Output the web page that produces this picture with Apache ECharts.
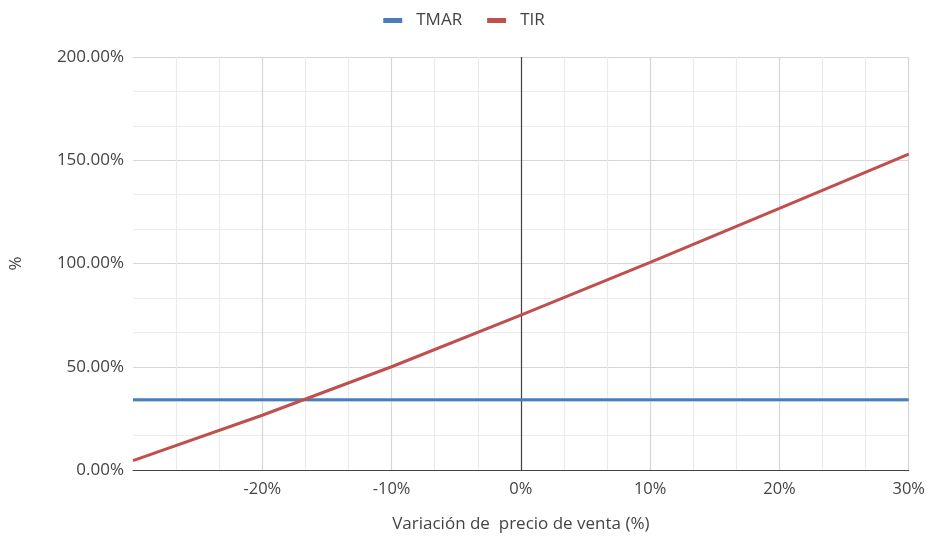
<!DOCTYPE html>
<html>
<head>
<meta charset="utf-8">
<script src="https://cdn.jsdelivr.net/npm/echarts@6/dist/echarts.min.js"></script>
<style>html,body{margin:0;padding:0;background:#fff}#c{width:928px;height:540px}</style>
</head>
<body>
<div id="c"></div>
<script>
var variation = [-30, -20, -10, 0, 10, 20, 30];
var tmar = [34, 34, 34, 34, 34, 34, 34];
var tir = [4.5, 26.5, 50, 75, 100.5, 126.7, 153];
var seriesNames = ['TMAR', 'TIR'];
var xTitle = 'Variación de  precio de venta (%)';
var yTitle = '%';

function pairs(xs, ys) { return xs.map(function (x, i) { return [x, ys[i]]; }); }

var font = '"Open Sans", "Noto Sans", sans-serif';
var chart = echarts.init(document.getElementById('c'), null, { renderer: 'canvas' });
chart.setOption({
  animation: false,
  textStyle: { fontFamily: font },
  legend: {
    top: 7, left: 'center',
    itemWidth: 19, itemHeight: 5, itemGap: 25,
    icon: 'rect',
    textStyle: { fontFamily: font, fontSize: 17, color: '#444', padding: [0, 0, 0, 9] },
    data: seriesNames
  },
  grid: { left: 133, right: 19, top: 57, bottom: 70 },
  xAxis: {
    type: 'value', min: -30, max: 30, interval: 10,
    name: xTitle, nameLocation: 'middle', nameGap: 46,
    nameTextStyle: { fontFamily: font, fontSize: 17, color: '#444' },
    axisLine: { onZero: false, lineStyle: { color: '#444', width: 1 } },
    axisTick: { show: false },
    axisLabel: {
      color: '#444', fontSize: 16.5, fontFamily: font, margin: 11, showMinLabel: false,
      formatter: function (v) { return v === -30 ? '' : v + '%'; }
    },
    splitLine: { show: true, showMinLine: false, lineStyle: { color: '#d6d6d6', width: 1.2 } },
    minorTick: { show: false, splitNumber: 3 },
    minorSplitLine: { show: true, lineStyle: { color: '#ebebeb', width: 1.2 } }
  },
  yAxis: {
    type: 'value', min: 0, max: 200, interval: 50,
    name: yTitle, nameLocation: 'middle', nameGap: 108, nameRotate: 90,
    nameTextStyle: { fontFamily: font, fontSize: 17, color: '#444' },
    axisLine: { show: false, onZero: false },
    axisTick: { show: false },
    axisLabel: {
      color: '#444', fontSize: 17, fontFamily: font, margin: 9,
      formatter: function (v) { return v.toFixed(2) + '%'; }
    },
    splitLine: { show: true, lineStyle: { color: '#d6d6d6', width: 1.2 } },
    minorTick: { show: false, splitNumber: 3 },
    minorSplitLine: { show: true, lineStyle: { color: '#ebebeb', width: 1.2 } }
  },
  series: [
    {
      name: seriesNames[0], type: 'line', data: pairs(variation, tmar),
      symbol: 'none', color: '#4a7ebb', lineStyle: { width: 3, color: '#4a7ebb' }, z: 3
    },
    {
      name: seriesNames[1], type: 'line', data: pairs(variation, tir),
      symbol: 'none', color: '#c0504d', lineStyle: { width: 3, color: '#c0504d' }, z: 4,
      markLine: {
        silent: true, symbol: 'none', label: { show: false },
        lineStyle: { color: '#444', width: 1.2, type: 'solid' },
        data: [{ xAxis: 0 }], z: 1
      }
    }
  ]
});
</script>
</body>
</html>
